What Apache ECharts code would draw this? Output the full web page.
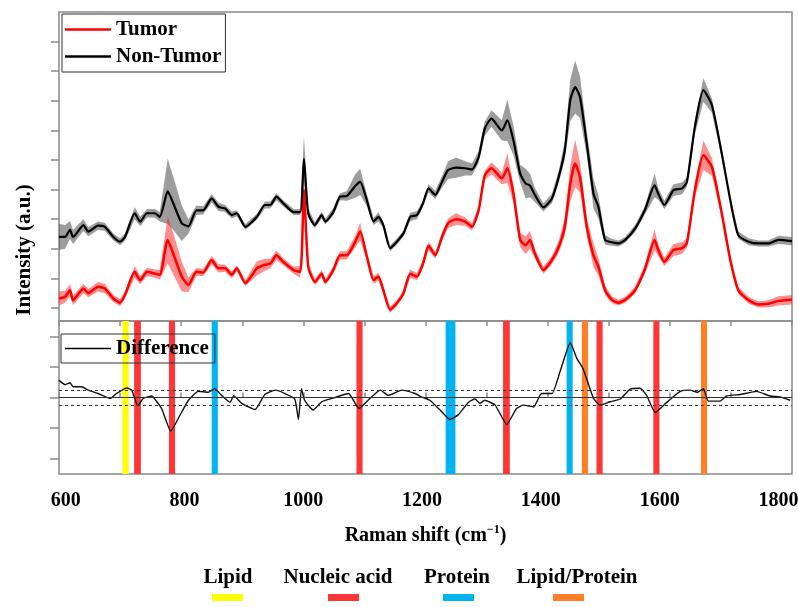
<!DOCTYPE html>
<html>
<head>
<meta charset="utf-8">
<script src="https://cdn.jsdelivr.net/npm/echarts@6/dist/echarts.min.js"></script>
<style>
html, body { margin: 0; padding: 0; background: #fff; }
#chart { width: 798px; height: 607px; }
</style>
</head>
<body>
<div id="chart"></div>
<script>
// Raman shift grid used by both mean spectra
const shifts = [600, 610, 618, 623, 640, 648, 664, 675, 689, 700, 708, 724, 733, 744, 757, 765, 778, 787, 801, 812,
    825, 836, 850, 861, 872, 883, 891, 905, 924, 937, 946, 956, 967, 984, 995, 1001, 1008, 1019, 1030, 1036,
    1049, 1060, 1071, 1085, 1093, 1104, 1115, 1123, 1131, 1142, 1153, 1164, 1175, 1186, 1196, 1205, 1216, 1227, 1237, 1250,
    1265, 1276, 1287, 1297, 1308, 1325, 1334, 1344, 1355, 1364, 1371, 1379, 1393, 1407, 1418, 1428, 1437, 1445, 1453, 1464,
    1475, 1483, 1494, 1505, 1516, 1527, 1543, 1559, 1575, 1581, 1591, 1606, 1620, 1628, 1641, 1655, 1669, 1685, 1699, 1712,
    1729, 1745, 1761, 1778, 1800];
const tumor = [0.16, 0.19, 0.30, 0.13, 0.33, 0.25, 0.36, 0.33, 0.16, 0.09, 0.22, 0.61, 0.47, 0.61, 0.58, 0.56, 1.15, 0.92, 0.53, 0.39,
    0.61, 0.60, 0.81, 0.67, 0.67, 0.56, 0.67, 0.42, 0.67, 0.73, 0.75, 0.89, 0.78, 0.64, 0.61, 1.99, 0.70, 0.44, 0.58, 0.44,
    0.64, 0.89, 0.89, 1.12, 1.29, 0.87, 0.47, 0.53, 0.30, -0.03, 0.08, 0.25, 0.58, 0.53, 0.75, 1.05, 0.89, 1.20, 1.43, 1.50,
    1.46, 1.37, 1.65, 2.24, 2.36, 2.19, 2.36, 1.93, 1.15, 1.06, 1.15, 0.92, 0.64, 0.81, 1.03, 1.37, 2.10, 2.44, 2.21, 1.37,
    0.89, 0.70, 0.30, 0.14, 0.09, 0.14, 0.30, 0.65, 1.15, 0.98, 0.78, 0.98, 1.01, 1.10, 1.99, 2.58, 2.38, 1.60, 0.81, 0.30,
    0.13, 0.06, 0.07, 0.12, 0.14];
const tumorSd = [0.12, 0.10, 0.10, 0.08, 0.08, 0.07, 0.08, 0.08, 0.06, 0.06, 0.06, 0.10, 0.07, 0.07, 0.07, 0.08, 0.40, 0.35, 0.25, 0.12,
    0.07, 0.06, 0.07, 0.07, 0.06, 0.06, 0.05, 0.05, 0.12, 0.10, 0.08, 0.08, 0.06, 0.06, 0.10, 0.25, 0.06, 0.05, 0.06, 0.05,
    0.06, 0.07, 0.07, 0.10, 0.15, 0.07, 0.06, 0.07, 0.05, 0.05, 0.05, 0.05, 0.07, 0.06, 0.06, 0.07, 0.06, 0.07, 0.08, 0.10,
    0.07, 0.06, 0.07, 0.08, 0.10, 0.10, 0.25, 0.15, 0.12, 0.15, 0.15, 0.08, 0.06, 0.07, 0.10, 0.15, 0.30, 0.40, 0.25, 0.15,
    0.20, 0.15, 0.08, 0.06, 0.05, 0.05, 0.06, 0.07, 0.18, 0.10, 0.07, 0.10, 0.10, 0.08, 0.12, 0.25, 0.15, 0.08, 0.06, 0.06,
    0.06, 0.05, 0.06, 0.08, 0.08];
const nonTumor = [1.20, 1.20, 1.32, 1.20, 1.40, 1.29, 1.39, 1.37, 1.20, 1.12, 1.20, 1.60, 1.46, 1.60, 1.60, 1.54, 1.97, 1.77, 1.43, 1.38,
    1.65, 1.65, 1.85, 1.71, 1.68, 1.57, 1.60, 1.37, 1.54, 1.74, 1.74, 1.88, 1.77, 1.62, 1.62, 2.52, 1.60, 1.40, 1.57, 1.46,
    1.62, 1.88, 1.89, 2.06, 2.13, 1.82, 1.46, 1.54, 1.40, 1.01, 1.12, 1.26, 1.54, 1.57, 1.77, 2.02, 1.91, 2.13, 2.33, 2.37,
    2.36, 2.34, 2.55, 3.03, 3.20, 3.00, 3.17, 2.83, 2.27, 2.10, 2.07, 1.91, 1.70, 1.85, 2.21, 2.66, 3.51, 3.73, 3.56, 2.78,
    1.93, 1.71, 1.15, 1.11, 1.09, 1.15, 1.34, 1.65, 2.07, 1.93, 1.74, 1.99, 2.02, 2.13, 3.06, 3.68, 3.42, 2.61, 1.82, 1.23,
    1.12, 1.09, 1.09, 1.15, 1.13];
const nonTumorSd = [0.22, 0.20, 0.15, 0.12, 0.10, 0.08, 0.07, 0.07, 0.06, 0.06, 0.06, 0.10, 0.08, 0.07, 0.07, 0.08, 0.55, 0.45, 0.30, 0.12,
    0.08, 0.07, 0.07, 0.07, 0.06, 0.06, 0.05, 0.05, 0.05, 0.06, 0.06, 0.06, 0.05, 0.05, 0.05, 0.38, 0.08, 0.05, 0.06, 0.05,
    0.06, 0.06, 0.08, 0.20, 0.22, 0.10, 0.06, 0.08, 0.05, 0.05, 0.05, 0.05, 0.07, 0.07, 0.05, 0.07, 0.07, 0.10, 0.15, 0.17,
    0.12, 0.10, 0.10, 0.12, 0.14, 0.17, 0.35, 0.25, 0.15, 0.25, 0.20, 0.12, 0.07, 0.08, 0.10, 0.15, 0.35, 0.45, 0.35, 0.20,
    0.25, 0.20, 0.08, 0.06, 0.05, 0.05, 0.06, 0.07, 0.20, 0.10, 0.07, 0.10, 0.10, 0.08, 0.12, 0.20, 0.12, 0.08, 0.06, 0.06,
    0.06, 0.05, 0.05, 0.07, 0.07];

// difference spectrum (lower panel)
const diffShifts = [600, 610, 618, 623, 637, 648, 664, 684, 694, 711, 719, 729, 738, 752, 758, 768, 783, 798, 812, 828,
    844, 855, 866, 880, 886, 899, 921, 937, 954, 970, 986, 992, 997, 1002, 1016, 1030, 1052, 1074, 1091, 1106,
    1126, 1139, 1161, 1183, 1191, 1207, 1224, 1240, 1254, 1270, 1281, 1289, 1297, 1314, 1333, 1349, 1360, 1377, 1390, 1407,
    1420, 1437, 1448, 1458, 1475, 1486, 1502, 1519, 1535, 1551, 1562, 1576, 1595, 1617, 1633, 1645, 1655, 1663, 1682, 1693,
    1715, 1742, 1764, 1780, 1797];
const diffValues = [0.56, 0.42, 0.48, 0.35, 0.35, 0.24, 0.13, -0.03, 0.13, 0.31, 0.24, -0.27, -0.03, 0.05, -0.08, -0.36, -1.10, -0.58, -0.09, 0.20,
    0.17, 0.29, 0.07, -0.16, 0.06, -0.19, -0.39, 0.10, 0.24, 0.13, -0.05, -0.72, 0.29, -0.09, -0.41, -0.14, 0.00, 0.13, -0.36, -0.09,
    0.24, 0.07, 0.24, 0.13, 0.04, -0.09, -0.41, -0.72, -0.56, -0.16, -0.05, -0.19, -0.09, -0.25, -0.88, -0.36, -0.25, -0.31, 0.13, 0.13,
    0.83, 1.79, 1.27, 0.94, -0.03, -0.25, -0.14, -0.05, 0.27, 0.30, 0.07, -0.49, -0.16, 0.20, 0.24, 0.17, 0.29, -0.12, -0.12, 0.05,
    0.10, 0.20, 0.05, 0.02, -0.09];
const diffLimits = [-0.25, 0, 0.25];

// assigned bands
const bandStart = [704, 723, 780, 850, 1087, 1233, 1327, 1431, 1456, 1480, 1573, 1651];
const bandEnd = [714, 734, 790, 860, 1097, 1249, 1338, 1441, 1466, 1490, 1583, 1661];
const bandType = ['Lipid', 'Nucleic acid', 'Nucleic acid', 'Protein', 'Nucleic acid', 'Protein',
    'Nucleic acid', 'Protein', 'Lipid/Protein', 'Nucleic acid', 'Nucleic acid', 'Lipid/Protein'];
const groupNames = ['Lipid', 'Nucleic acid', 'Protein', 'Lipid/Protein'];
const groupColors = ['#ffff00', '#ff3636', '#00b4f0', '#ff7f27'];

const xLabels = [600, 800, 1000, 1200, 1400, 1600, 1800];
const topTicks = [0, 0.5, 1, 1.5, 2, 2.5, 3, 3.5, 4, 4.5];
const diffTicks = [-2, -1, 0, 1, 2];

const serif = '"Liberation Serif", "DejaVu Serif", serif';
const axisGrey = '#8a8a8a';

const chart = echarts.init(document.getElementById('chart'));

function bandRenderer(ys, sds, color) {
    return function (params, api) {
        if (params.dataIndex !== 0) return;
        const upper = shifts.map(function (x, i) { return api.coord([x, ys[i] + sds[i]]); });
        const lower = shifts.map(function (x, i) { return api.coord([x, ys[i] - sds[i]]); }).reverse();
        return {
            type: 'polygon',
            shape: { points: upper.concat(lower) },
            style: { fill: color },
            silent: true
        };
    };
}

// the printed tick labels sit a little closer together than the ticks
const labelRich = {};
xLabels.forEach(function (v, i) {
    const shift = (1000 - v) * 0.017;
    labelRich['p' + i] = {
        fontFamily: serif, fontWeight: 'bold', fontSize: 20, color: '#000',
        padding: shift > 0 ? [0, 0, 0, 2 * shift] : [0, -2 * shift, 0, 0]
    };
});

const legendText = { fontFamily: serif, fontWeight: 'bold', fontSize: 21, color: '#000' };
const legendX = [228, 338, 457, 577];
const swatchX = [227, 343, 458, 568];

const graphics = [{
    type: 'text', x: 25, y: 250, rotation: Math.PI / 2,
    style: { text: 'Intensity (a.u.)', align: 'center', verticalAlign: 'middle',
        font: 'bold 21px ' + serif, fill: '#000' }
}];
groupNames.forEach(function (name, i) {
    graphics.push({
        type: 'text', x: legendX[i], y: 578,
        style: { text: name, align: 'center', verticalAlign: 'middle', font: 'bold 21px ' + serif, fill: '#000' }
    });
    graphics.push({
        type: 'rect', shape: { x: swatchX[i] - 15, y: 594, width: 31, height: 7 },
        style: { fill: groupColors[i] }
    });
});

const option = {
    animation: false,
    backgroundColor: '#fff',
    grid: [
        { left: 59, top: 12, width: 733, height: 309, show: true, borderColor: axisGrey, borderWidth: 1.5,
            containLabel: false, outerBoundsMode: 'none' },
        { left: 59, top: 321, width: 733, height: 153, show: true, borderColor: axisGrey, borderWidth: 1.5,
            containLabel: false, outerBoundsMode: 'none' }
    ],
    legend: [
        {
            data: ['Tumor', 'Non-Tumor'], orient: 'vertical', left: 62, top: 14,
            icon: 'rect', itemWidth: 46, itemHeight: 2.5, itemGap: 6, padding: [5, 4, 5, 3],
            borderColor: '#333', borderWidth: 1, textStyle: legendText
        },
        {
            data: ['Difference'], left: 61, top: 334,
            icon: 'rect', itemWidth: 46, itemHeight: 1.5, padding: [4, 6, 4, 4],
            borderColor: '#333', borderWidth: 1, textStyle: legendText
        }
    ],
    xAxis: [
        { gridIndex: 0, type: 'value', min: 600, max: 1800, axisLine: { show: false },
            axisTick: { show: false }, axisLabel: { show: false }, splitLine: { show: false } },
        {
            gridIndex: 1, type: 'value', min: 600, max: 1800, interval: 100,
            axisLine: { show: false },
            axisTick: { inside: true, length: 5, lineStyle: { color: axisGrey, width: 1.5 } },
            axisLabel: {
                margin: 17, rich: labelRich, hideOverlap: false,
                formatter: function (v) {
                    const i = xLabels.indexOf(v);
                    return i < 0 ? '' : '{p' + i + '|' + v + '}';
                }
            },
            splitLine: { show: false },
            name: '{n|Raman shift (cm}{s|\u22121}{n|)}', nameLocation: 'middle', nameGap: 50,
            nameTextStyle: {
                rich: {
                    n: { fontFamily: serif, fontWeight: 'bold', fontSize: 20, color: '#000', lineHeight: 24 },
                    s: { fontFamily: serif, fontWeight: 'bold', fontSize: 12, color: '#000', verticalAlign: 'top', lineHeight: 24 }
                }
            }
        },
        {
            gridIndex: 1, type: 'value', position: 'top', min: 600, max: 1800, interval: 100,
            axisLine: { show: false },
            axisTick: { inside: true, length: 5, lineStyle: { color: axisGrey, width: 1.5 } },
            axisLabel: { show: false }, splitLine: { show: false }
        }
    ],
    yAxis: [
        {
            gridIndex: 0, type: 'value', min: -0.22, max: 5,
            axisLine: { show: false },
            axisTick: { show: true, customValues: topTicks, length: 8, lineStyle: { color: axisGrey, width: 1.5 } },
            axisLabel: { show: false }, splitLine: { show: false }
        },
        {
            gridIndex: 1, type: 'value', min: -2.5, max: 2.5,
            axisLine: { show: false },
            axisTick: { show: true, customValues: diffTicks, length: 9, lineStyle: { color: axisGrey, width: 1.5 } },
            axisLabel: { show: false }, splitLine: { show: false }
        }
    ],
    series: [
        {
            name: 'nonTumorBand', type: 'custom', xAxisIndex: 0, yAxisIndex: 0, z: 1,
            data: shifts.map(function (x, i) { return [x, nonTumor[i] - nonTumorSd[i], nonTumor[i] + nonTumorSd[i]]; }),
            encode: { x: 0, y: [1, 2] },
            renderItem: bandRenderer(nonTumor, nonTumorSd, 'rgba(60,60,60,0.5)')
        },
        {
            name: 'tumorBand', type: 'custom', xAxisIndex: 0, yAxisIndex: 0, z: 1,
            data: shifts.map(function (x, i) { return [x, tumor[i] - tumorSd[i], tumor[i] + tumorSd[i]]; }),
            encode: { x: 0, y: [1, 2] },
            renderItem: bandRenderer(tumor, tumorSd, 'rgba(255,30,30,0.5)')
        },
        {
            name: 'Tumor', type: 'line', xAxisIndex: 0, yAxisIndex: 0, z: 3,
            data: shifts.map(function (x, i) { return [x, tumor[i]]; }),
            symbol: 'none', smooth: 0.2, color: '#ff0000',
            lineStyle: { color: '#ff0000', width: 2.5 }
        },
        {
            name: 'Non-Tumor', type: 'line', xAxisIndex: 0, yAxisIndex: 0, z: 3,
            data: shifts.map(function (x, i) { return [x, nonTumor[i]]; }),
            symbol: 'none', smooth: 0.2, color: '#000',
            lineStyle: { color: '#000', width: 2.2 }
        },
        {
            name: 'bands', type: 'custom', xAxisIndex: 1, yAxisIndex: 1, z: 1,
            data: bandStart.map(function (s, i) { return [s, bandEnd[i], groupNames.indexOf(bandType[i])]; }),
            encode: { x: [0, 1], y: 2 },
            renderItem: function (params, api) {
                const a = api.coord([api.value(0), 0]);
                const b = api.coord([api.value(1), 0]);
                const cs = params.coordSys;
                return {
                    type: 'rect',
                    shape: { x: a[0], y: cs.y, width: b[0] - a[0], height: cs.height },
                    style: { fill: groupColors[api.value(2)] },
                    silent: true
                };
            }
        },
        {
            name: 'Difference', type: 'line', xAxisIndex: 1, yAxisIndex: 1, z: 3,
            data: diffShifts.map(function (x, i) { return [x, diffValues[i]]; }),
            symbol: 'none', smooth: 0.15, color: '#000',
            lineStyle: { color: '#111', width: 1.4 },
            markLine: {
                silent: true, symbol: 'none', label: { show: false },
                data: diffLimits.map(function (v) {
                    return {
                        yAxis: v,
                        lineStyle: { type: v === 0 ? 'solid' : [3, 3], color: '#333', width: 1.2 }
                    };
                })
            }
        }
    ],
    graphic: graphics
};

chart.setOption(option);
</script>
</body>
</html>
